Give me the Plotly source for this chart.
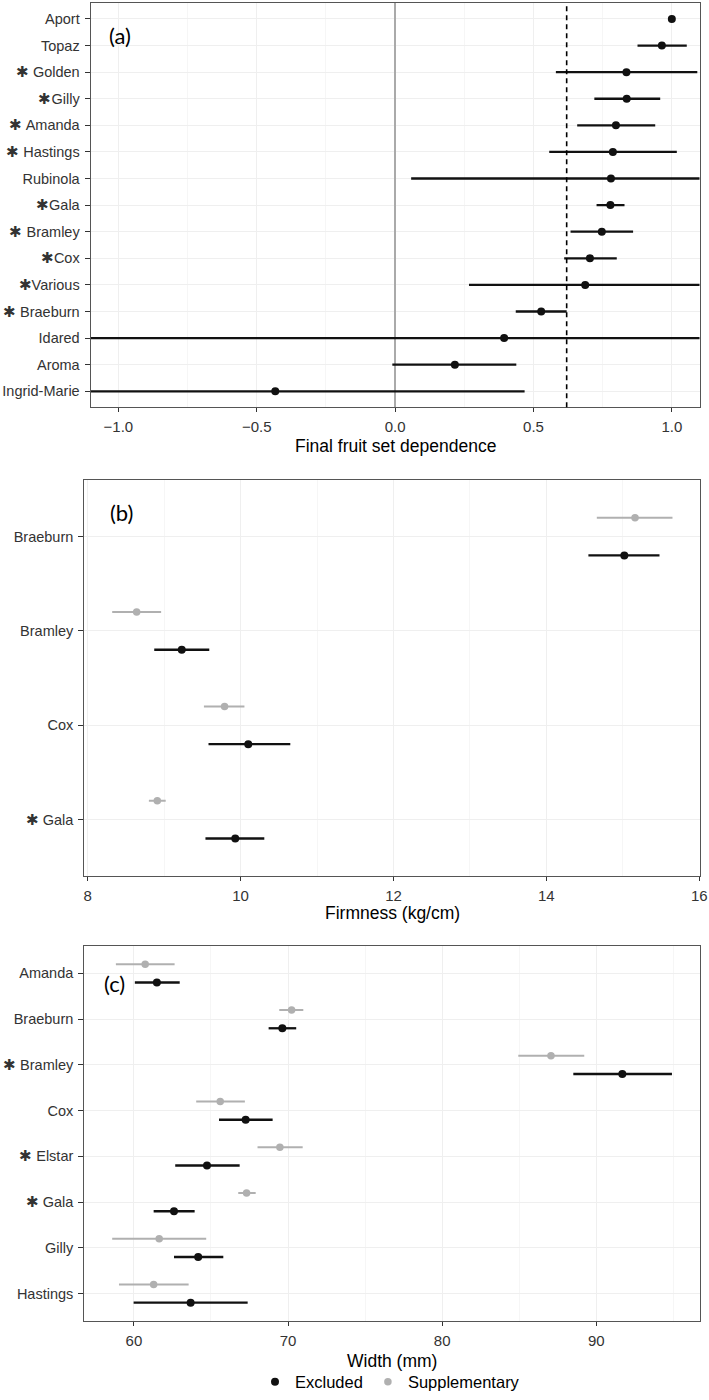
import plotly.graph_objects as go

# ---------------- data ----------------
# Panel (a): final fruit set dependence (estimate with interval)
a_labels = ["Aport", "Topaz", "✱ Golden", "✱Gilly", "✱ Amanda", "✱ Hastings", "Rubinola",
            "✱Gala", "✱ Bramley", "✱Cox", "✱Various", "✱ Braeburn", "Idared", "Aroma", "Ingrid-Marie"]
a_est = [1.00, 0.964, 0.836, 0.837, 0.798, 0.787, 0.780, 0.778, 0.747, 0.704, 0.687, 0.528, 0.394, 0.216, -0.433]
a_lo = [1.00, 0.876, 0.581, 0.720, 0.658, 0.557, 0.058, 0.728, 0.634, 0.611, 0.267, 0.436, -1.30, -0.010, -1.33]
a_hi = [1.00, 1.054, 1.092, 0.958, 0.940, 1.018, 1.50, 0.829, 0.860, 0.801, 1.11, 0.620, 2.09, 0.438, 0.468]
a_threshold = 0.62

# Panel (b): firmness (kg/cm)
b_labels = ["Braeburn", "Bramley", "Cox", "✱ Gala"]
b_sup_est = [15.16, 8.64, 9.79, 8.91]
b_sup_lo = [14.66, 8.32, 9.52, 8.80]
b_sup_hi = [15.65, 8.96, 10.05, 9.02]
b_exc_est = [15.02, 9.23, 10.10, 9.93]
b_exc_lo = [14.55, 8.87, 9.58, 9.54]
b_exc_hi = [15.48, 9.59, 10.65, 10.31]

# Panel (c): width (mm)
c_labels = ["Amanda", "Braeburn", "✱ Bramley", "Cox", "✱ Elstar", "✱ Gala", "Gilly", "Hastings"]
c_sup_est = [60.73, 70.23, 87.06, 65.60, 69.47, 67.31, 61.64, 61.28]
c_sup_lo = [58.83, 69.43, 84.94, 64.04, 68.02, 66.77, 58.59, 59.03]
c_sup_hi = [62.64, 70.99, 89.22, 67.20, 70.95, 67.90, 64.69, 63.55]
c_exc_est = [61.49, 69.63, 91.69, 67.25, 64.74, 62.60, 64.17, 63.68]
c_exc_lo = [60.06, 68.74, 88.51, 65.52, 62.68, 61.28, 62.60, 59.98]
c_exc_hi = [62.97, 70.53, 94.91, 69.00, 66.86, 63.94, 65.80, 67.38]

group_names = ["Excluded", "Supplementary"]

# ---------------- style ----------------
W, H = 709, 1400
BLACK = "#111111"
GREY = "#b0b0b0"
DODGE = 0.2
FONT = "Liberation Sans, Arial, sans-serif"


def px_x(px):
    return px / W


def px_y(px):
    return 1 - px / H


fig = go.Figure()


def errs(est, lo, hi):
    plus = [h - e for e, h in zip(est, hi)]
    minus = [e - l for e, l in zip(est, lo)]
    return plus, minus


def add_series(est, lo, hi, ypos, color, size, xa, ya, name, showlegend, thick):
    plus, minus = errs(est, lo, hi)
    fig.add_trace(go.Scatter(
        x=est, y=ypos, mode="markers", name=name, legendgroup=name, showlegend=showlegend,
        marker=dict(color=color, size=size, line=dict(width=0)),
        error_x=dict(type="data", array=plus, arrayminus=minus, symmetric=False,
                     color=color, thickness=thick, width=0),
        xaxis=xa, yaxis=ya, cliponaxis=True,
    ))


# Panel a
ya_pos = list(range(len(a_labels)))
add_series(a_est, a_lo, a_hi, ya_pos, BLACK, 8, "x", "y", "a", False, 2.3)

# Panel b
yb = list(range(len(b_labels)))
add_series(b_exc_est, b_exc_lo, b_exc_hi, [i + DODGE for i in yb], BLACK, 8, "x2", "y2",
           group_names[0], True, 2.3)
add_series(b_sup_est, b_sup_lo, b_sup_hi, [i - DODGE for i in yb], GREY, 7.5, "x2", "y2",
           group_names[1], True, 2.0)

# Panel c
yc = list(range(len(c_labels)))
add_series(c_exc_est, c_exc_lo, c_exc_hi, [i + DODGE for i in yc], BLACK, 8, "x3", "y3",
           group_names[0], False, 2.3)
add_series(c_sup_est, c_sup_lo, c_sup_hi, [i - DODGE for i in yc], GREY, 7.5, "x3", "y3",
           group_names[1], False, 2.0)

# ---------------- axes ----------------
xtickfont = dict(family=FONT, size=15, color="#333333")
ytickfont = dict(family=FONT, size=14.5, color="#333333")
common_x = dict(showline=True, mirror=True, linecolor="#555555", linewidth=1.2,
                ticks="outside", ticklen=4, tickcolor="#333333", tickwidth=1,
                showgrid=True, gridcolor="#efefef", gridwidth=1, zeroline=False,
                tickfont=xtickfont, automargin=False, ticklabelstandoff=2,
                ticklabeloverflow="allow")
common_y = dict(showline=True, mirror=True, linecolor="#555555", linewidth=1.2,
                ticks="outside", ticklen=5, tickcolor="#333333", tickwidth=1,
                showgrid=True, gridcolor="#efefef", gridwidth=1, zeroline=False,
                tickfont=ytickfont, automargin=False, tickmode="array", ticklabelstandoff=2)

dom_a_x = [px_x(90.7), px_x(699.5)]
dom_bc_x = [px_x(84.3), px_x(700)]
dom_a_y = [px_y(409), px_y(3)]
dom_b_y = [px_y(880), px_y(482)]
dom_c_y = [px_y(1326.7), px_y(950)]

fig.update_layout(
    xaxis=dict(common_x, domain=dom_a_x, anchor="y", range=[-1.1, 1.1], tickvals=[-1, -0.5, 0, 0.5, 1],
               ticktext=["\u22121.0", "\u22120.5", "0.0", "0.5", "1.0"],
               minor=dict(showgrid=True, gridcolor="#f6f6f6", dtick=0.25),
               zeroline=True, zerolinecolor="#aaaaaa", zerolinewidth=1.5),
    yaxis=dict(common_y, domain=dom_a_y, anchor="x", range=[len(a_labels) - 0.4, -0.6],
               tickvals=ya_pos, ticktext=a_labels),
    xaxis2=dict(common_x, domain=dom_bc_x, anchor="y2", range=[7.955, 16.01], tickvals=[8, 10, 12, 14, 16],
                minor=dict(showgrid=True, gridcolor="#f6f6f6", dtick=1)),
    yaxis2=dict(common_y, domain=dom_b_y, anchor="x2", range=[len(b_labels) - 0.4, -0.6],
                tickvals=yb, ticktext=b_labels),
    xaxis3=dict(common_x, domain=dom_bc_x, anchor="y3", range=[56.78, 96.73], tickvals=[60, 70, 80, 90],
                minor=dict(showgrid=True, gridcolor="#f6f6f6", dtick=5)),
    yaxis3=dict(common_y, domain=dom_c_y, anchor="x3", range=[len(c_labels) - 0.4, -0.6],
                tickvals=yc, ticktext=c_labels),
)

# dashed reference line in panel a
fig.add_shape(type="line", xref="x", yref="y domain", x0=a_threshold, x1=a_threshold, y0=0, y1=1,
              line=dict(color="black", width=1.6, dash="5px,4px"), layer="above")

# ---------------- text ----------------
title_font = dict(family=FONT, size=17.5, color="black")
axis_titles = [("Final fruit set dependence", 395, 448),
               ("Firmness (kg/cm)", 392, 917),
               ("Width (mm)", 392, 1367)]
for txt, xc, yc_ in axis_titles:
    fig.add_annotation(text=txt, x=px_x(xc), y=px_y(yc_), xref="paper", yref="paper",
                       showarrow=False, font=title_font, xanchor="center", yanchor="middle")

panel_font = dict(family="Lato, Open Sans, sans-serif", size=22, color="black")
for txt, xc, yc_ in [("(a)", 120, 36), ("(b)", 121, 515), ("(c)", 114, 988)]:
    fig.add_annotation(text=txt, x=px_x(xc), y=px_y(yc_), xref="paper", yref="paper",
                       showarrow=False, font=panel_font, xanchor="center", yanchor="middle")

fig.update_layout(
    width=W, height=H,
    margin=dict(l=0, r=0, t=0, b=0),
    paper_bgcolor="white", plot_bgcolor="white",
    font=dict(family=FONT, size=14, color="black"),
    legend=dict(orientation="h", x=px_x(390), y=px_y(1388), xanchor="center", yanchor="middle",
                font=dict(family=FONT, size=16.5, color="black"), itemwidth=30,
                bgcolor="rgba(0,0,0,0)", traceorder="normal", tracegroupgap=0),
    showlegend=True,
)

fig.write_html("out.html", config={"displayModeBar": False},
               post_script="document.body.style.margin='0';document.body.style.padding='0';")
